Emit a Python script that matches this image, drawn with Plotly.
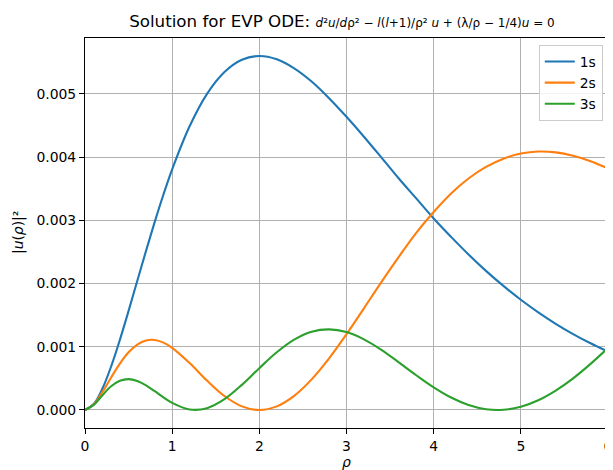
import plotly.graph_objects as go

rho = [0.0, 0.1, 0.2, 0.3, 0.4, 0.5, 0.6, 0.7, 0.8, 0.9, 1.0, 1.2, 1.4, 1.6, 1.8, 2.0,
       2.2, 2.4, 2.6, 2.8, 3.0, 3.2, 3.4, 3.6, 3.8, 4.0, 4.2, 4.4, 4.6, 4.8, 5.0,
       5.2, 5.4, 5.6, 5.8, 6.0]

u1s = [0.0, 0.0000937, 0.000339, 0.00069, 0.00111, 0.001569, 0.002045, 0.002518,
       0.002976, 0.003409, 0.003808, 0.004489, 0.005003, 0.005349, 0.005543, 0.005602,
       0.005550, 0.005407, 0.005198, 0.004934, 0.004639, 0.004324, 0.003996, 0.003662,
       0.003348, 0.003030, 0.002739, 0.002461, 0.002201, 0.001963, 0.001744,
       0.001545, 0.001364, 0.001201, 0.001055, 0.000924]

u2s = [0.0, 0.0000874, 0.000284, 0.000515, 0.000734, 0.000913, 0.001036, 0.0011,
       0.001108, 0.001066, 0.000984, 0.000743, 0.000465, 0.000221, 0.0000573, 0.0,
       0.0000574, 0.000224, 0.000484, 0.000816, 0.001199, 0.001609, 0.002024, 0.002423,
       0.002803, 0.003133, 0.003426, 0.003663, 0.003846, 0.003977, 0.004057,
       0.004089, 0.004076, 0.004023, 0.003937, 0.003821]

u3s = [0.0, 0.0000809, 0.000234, 0.000375, 0.000463, 0.000489, 0.000460, 0.00039,
       0.000297, 0.0002, 0.000112, 0.0000076, 0.0000286, 0.000171, 0.000398, 0.000662,
       0.000913, 0.001113, 0.001238, 0.001276, 0.001233, 0.001118, 0.000952, 0.000753,
       0.000550, 0.000358, 0.000197, 0.0000786, 0.0000126, 0.0000033, 0.0000515,
       0.000154, 0.000307, 0.000501, 0.000730, 0.000982]

series = [("1s", u1s, "#1f77b4"), ("2s", u2s, "#ff7f0e"), ("3s", u3s, "#2ca02c")]

fig = go.Figure()
for name, vals, col in series:
    fig.add_trace(go.Scatter(x=rho, y=vals, mode="lines", name=name,
                             line=dict(color=col, width=2.1, shape="spline", smoothing=1.0)))

font = "DejaVu Sans, sans-serif"
axis_common = dict(showline=True, linecolor="black", linewidth=1.1, mirror=True,
                   ticks="outside", ticklen=5, tickwidth=1.1, tickcolor="black",
                   showgrid=True, gridcolor="#b0b0b0", gridwidth=1.1, zeroline=False,
                   automargin=False, ticklabeloverflow="allow",
                   tickfont=dict(family=font, size=13.9, color="black"))

title_text = ("Solution for EVP ODE: <span style='font-size:12px'><i>d</i>²<i>u</i>/<i>d</i>ρ² − "
              "<i>l</i>(<i>l</i>+1)/ρ² <i>u</i> + (λ/ρ − 1/4)<i>u</i> = 0</span>")

# the page body adds an 8px offset, so the figure is drawn 8px smaller
fig.update_layout(
    width=605, height=462,
    margin=dict(l=77, r=5, t=30, b=42, autoexpand=False),
    paper_bgcolor="white", plot_bgcolor="white",
    font=dict(family=font, size=13.9, color="black"),
    title=dict(text=title_text, x=0.552, xanchor="center", y=0.972, yanchor="middle",
               font=dict(family=font, size=16.7, color="black")),
    xaxis=dict(range=[0, 6], tickvals=[0, 1, 2, 3, 4, 5, 6], **axis_common),
    yaxis=dict(range=[-0.000285, 0.005886],
               tickvals=[0, 0.001, 0.002, 0.003, 0.004, 0.005],
               ticktext=["0.000", "0.001", "0.002", "0.003", "0.004", "0.005"],
               **axis_common),
    legend=dict(x=0.990, xanchor="right", y=0.982, yanchor="top",
                bgcolor="rgba(255,255,255,0.85)", bordercolor="#cccccc", borderwidth=1,
                font=dict(family=font, size=13.9, color="black"),
                itemwidth=30, tracegroupgap=2),
    showlegend=True,
    annotations=[
        dict(text="<i>ρ</i>", xref="paper", yref="paper", x=0.5, y=-0.087,
             xanchor="center", yanchor="middle", showarrow=False,
             font=dict(family=font, size=13.9, color="black")),
        dict(text="|<i>u</i>(<i>ρ</i>)|²", xref="paper", yref="paper", x=-0.128, y=0.5,
             xanchor="center", yanchor="middle", showarrow=False, textangle=-90,
             font=dict(family=font, size=13.9, color="black")),
    ],
)

fig.write_html("out.html")
